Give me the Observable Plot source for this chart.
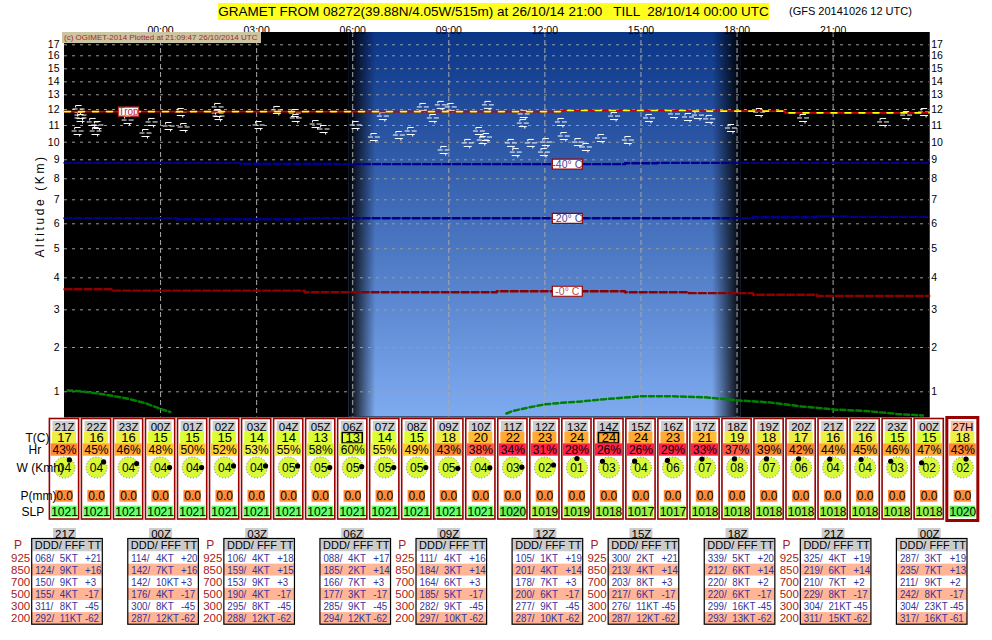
<!DOCTYPE html>
<html>
<head>
<meta charset="utf-8">
<script src="https://cdn.jsdelivr.net/npm/d3@7"></script>
<script src="https://cdn.jsdelivr.net/npm/@observablehq/plot@0.6"></script>
<style>
  html, body { margin: 0; padding: 0; background: #fff; }
  #chart { position: relative; width: 992px; height: 640px; overflow: hidden; font-family: "Liberation Sans", Arial, Helvetica, sans-serif; }
  #chart svg { position: absolute; left: 0; top: 0; }
  .ovl { position: absolute; white-space: pre; }
</style>
</head>
<body>
<div id="chart"></div>
<script>
// ===================== DATA =====================
const titleText = "GRAMET FROM 08272(39.88N/4.05W/515m) at 26/10/14 21:00   TILL  28/10/14 00:00 UTC";
const modelRunText = "(GFS 20141026 12 UTC)";
const creditText = "(c) OGIMET-2014 Plotted at 21:09:47 26/10/2014 UTC";
const yAxisTitle = "Altitude (Km)";

// time axis: hours after 26/10 21:00
const timeTickHours = [3, 6, 9, 12, 15, 18, 21, 24];
const timeTickLabels = ["00:00", "03:00", "06:00", "09:00", "12:00", "15:00", "18:00", "21:00"];
const altTicks = [1, 2, 3, 4, 5, 6, 7, 8, 9, 10, 11, 12, 13, 14, 15, 16, 17];

// non-linear altitude axis (km -> pixel)
const altScaleKm = [0.5, 1, 2, 3, 4, 5, 6, 7, 8, 9, 10, 11, 12, 13, 14, 15, 16, 17, 18.1];
const altScalePx = [416.5, 391.3, 347, 309.3, 277.3, 248.3, 223.3, 199.3, 178.3, 159.3, 141.7, 125, 109, 94.3, 81.3, 68.3, 55.3, 44.3, 32];

// dawn start, full day, dusk start, night
const daylightHours = [8.88, 9.72, 20.24, 21.13];

const profileHours = [0,1,2,3,4,5,6,7,8,9,10,11,12,13,14,15,16,17,18,19,20,21,22,23,24,25,26,27];
const isoMinus40Km = [8.84,8.84,8.84,8.84,8.84,8.84,8.79,8.79,8.79,8.77,8.77,8.77,8.77,8.77,8.77,8.77,8.77,8.77,8.82,8.84,8.84,8.84,8.84,8.84,8.84,8.84,8.84,8.84];
const isoMinus20Km = [6.23,6.23,6.23,6.23,6.19,6.19,6.19,6.19,6.23,6.23,6.23,6.23,6.23,6.23,6.23,6.23,6.23,6.23,6.23,6.23,6.23,6.23,6.27,6.27,6.31,6.29,6.29,6.29];
const iso0Km = [3.64,3.64,3.60,3.60,3.60,3.60,3.60,3.60,3.55,3.55,3.55,3.55,3.55,3.55,3.58,3.58,3.58,3.58,3.55,3.55,3.52,3.52,3.47,3.47,3.43,3.43,3.43,3.43];
const tropopauseKm = [11.87,11.87,11.87,11.87,11.87,11.87,11.87,11.87,11.87,11.87,11.87,11.87,11.87,11.87,11.87,11.87,11.94,11.94,11.94,11.94,11.90,11.90,11.90,11.79,11.79,11.79,11.79,11.79];
const isoLabelHour = 15.7;
const tropLabelHour = 2;

// green boundary line (gap while below ground)
const blHours = [0.1, 0.5, 1, 1.5, 2, 2.5, 3, 3.3, 8, 13.8, 14, 14.5, 15, 15.5, 16, 16.5, 17, 18, 19, 20, 21, 22, 23, 24, 25, 26, 26.8];
const blKm = [1.03, 1.01, 0.97, 0.92, 0.86, 0.78, 0.66, 0.6, NaN, 0.57, 0.62, 0.69, 0.75, 0.78, 0.80, 0.83, 0.86, 0.91, 0.91, 0.89, 0.83, 0.79, 0.71, 0.65, 0.62, 0.56, 0.53];

// cloud symbols
const cloudHour = [0.44,0.5,0.5,0.41,0.88,1.03,0.97,1.97,2.72,2.53,3.63,3.25,3.72,4.78,4.78,4.81,6.06,6.63,7.19,7.22,7.84,8.09,9.09,11.19,11.75,12.06,13.22,9.94,11.5,9.66,10.44,10.81,11.84,12.59,12.94,13.06,13.16,13.94,14.09,14.34,14.31,14.56,15.03,14.97,15.5,15.59,16.03,16.28,16.75,17.16,17.59,18.25,19.03,19.47,19.78,20.13,20.81,21.69,23.06,25.56,26.28,26.84];
const cloudKm = [12.0,11.62,11.44,10.64,11.19,11.0,10.64,11.31,11.19,10.52,11.81,10.94,10.88,12.14,11.75,11.56,11.0,11.94,11.75,11.44,11.06,10.76,11.0,12.14,12.28,12.14,12.28,11.56,11.44,10.28,10.4,10.64,9.53,9.93,10.64,10.1,10.28,9.93,9.41,11.69,11.12,9.93,9.98,9.41,11.19,10.34,9.98,9.7,10.22,11.56,10.1,11.44,11.69,11.5,11.62,11.38,10.82,11.81,11.44,11.19,11.62,11.81];

// hourly surface table
const hourLabels = ["21Z","22Z","23Z","00Z","01Z","02Z","03Z","04Z","05Z","06Z","07Z","08Z","09Z","10Z","11Z","12Z","13Z","14Z","15Z","16Z","17Z","18Z","19Z","20Z","21Z","22Z","23Z","00Z"];
const tempC = [17,16,16,15,15,15,14,14,13,13,14,15,18,20,22,23,24,24,24,23,21,19,18,17,16,16,15,15];
const relHum = [43,45,46,48,50,52,53,55,58,60,55,49,43,38,34,31,28,26,26,29,33,37,39,42,44,45,46,47];
const windKmh = [4,4,4,4,4,4,4,5,5,5,5,5,5,4,3,2,1,3,4,6,7,8,7,6,4,4,3,2];
const windDir = [33,52,64,90,90,80,80,80,90,85,90,90,95,92,88,74,0,314,315,322,340,343,343,344,338,333,314,302];
const precipMm = [0,0,0,0,0,0,0,0,0,0,0,0,0,0,0,0,0,0,0,0,0,0,0,0,0,0,0,0];
const seaLevelP = [1021,1021,1021,1021,1021,1021,1021,1021,1021,1021,1021,1021,1021,1021,1020,1019,1019,1018,1017,1017,1018,1018,1018,1018,1018,1018,1018,1018];
const tExtremeCols = ["06Z", "14Z"];
const summaryCol = {lab: "27H", t: 18, hr: 43, w: 2, dir: 21, p: 0, slp: 1020};
const rowLabelText = ["T(C)", "Hr", "W (Kmh)", "P(mm)", "SLP"];

// upper air table
const uaBlockHours = [0, 3, 6, 9, 12, 15, 18, 21, 24, 27];
const uaBlockLabels = ["21Z","00Z","03Z","06Z","09Z","12Z","15Z","18Z","21Z","00Z"];
const uaHeader = "DDD/ FFF TT";
const uaLevels = [925, 850, 700, 500, 300, 200];
const uaDir = [[68,124,150,155,311,292],[114,142,142,176,300,287],[106,159,153,190,295,288],[88,185,166,177,285,294],[111,184,164,185,282,297],[105,201,178,200,277,287],[300,213,203,217,276,287],[339,212,220,220,299,293],[325,219,210,229,304,311],[287,235,211,242,304,317]];
const uaKt = [[5,9,9,4,8,11],[4,7,10,4,8,12],[4,4,9,4,8,12],[4,2,7,3,9,12],[4,3,6,5,9,10],[1,4,7,6,9,10],[2,4,8,6,11,12],[5,6,8,6,16,13],[4,6,7,8,21,15],[3,7,9,8,23,16]];
const uaTemp = [[21,16,3,-17,-45,-62],[20,16,3,-17,-45,-62],[18,15,3,-17,-45,-62],[17,14,3,-17,-45,-62],[16,14,3,-17,-45,-62],[19,14,3,-17,-45,-62],[21,14,3,-17,-45,-62],[20,14,2,-17,-45,-62],[19,14,2,-17,-45,-62],[19,13,2,-17,-45,-61]];

// ===================== LAYOUT / STYLE =====================
const FONT = '"Liberation Sans", Arial, Helvetica, sans-serif';
const UA_TEXT = "#34349a", UA_P = "#aa1a1a";
const W = 992, H = 640, X0 = 64, X1 = 928.7, TOP = 32, BOTTOM = 416.5;
const pxH = 27 / (X1 - X0);            // hours per pixel
const SUMMARY_H = 28.05;               // position of the 27H column
const rowLabelX = [25, 28, 16, 20, 21];
const rowLabelY = [437.5, 449.5, 467.5, 496, 511.5];
const kmToAxis = d3.scaleLinear().domain(altScaleKm).range(altScalePx);

const tColor = t => t >= 22 ? "#ffaa33" : t >= 20 ? "#ffbd35" : t >= 16 ? "#eeee44" : "#dcff33";
const hrColor = h => h <= 34 ? "#ff2246" : h <= 38 ? "#ff5a44" : h <= 43 ? "#ff8833" : h <= 47 ? "#ffaa33" : h <= 52 ? "#ffcc33" : h <= 56 ? "#eeee44" : "#d4f233";
const slpColor = s => s >= 1021 ? "#66ff66" : s >= 1020 ? "#66ee55" : "#99ee44";

// ===================== MAIN PLOT =====================
const profile = arr => profileHours.map((h, i) => ({h, km: arr[i]}));
const clouds = cloudHour.map((h, i) => ({h, km: cloudKm[i]}));
const bl = blHours.map((h, i) => ({h, km: blKm[i]}));
const li = Math.round(isoLabelHour);
const isoLabels = [
  {h: isoLabelHour, km: isoMinus40Km[li], text: "-40° C", color: "#4646a0"},
  {h: isoLabelHour, km: isoMinus20Km[li], text: "-20° C", color: "#4646a0"},
  {h: isoLabelHour, km: iso0Km[li], text: "-0° C", color: "#c44a4a"}
];
const tropLabel = [{h: tropLabelHour, km: tropopauseKm[tropLabelHour], text: "Trop"}];

// cirrus-like glyph: staggered short white strokes
const cloudSymbol = {draw(c) {
  c.moveTo(-3, -4); c.lineTo(3, -4);
  c.moveTo(-6, -0.5); c.lineTo(-1, -0.5);
  c.moveTo(1, -0.5); c.lineTo(6, -0.5);
  c.moveTo(-4, 3); c.lineTo(4, 3);
  c.moveTo(-3, -4); c.lineTo(-3, -2);
  c.moveTo(2, 3); c.lineTo(2, 5);
}};
const boxSymbol = (w, h) => ({draw(c) { c.rect(-w / 2, -h / 2, w, h); }});

const isoLine = (arr, color) => Plot.line(profile(arr), {x: "h", y: "km", curve: "step", stroke: color, strokeWidth: 2.4, strokeDasharray: "7,3"});

const main = Plot.plot({
  width: W, height: H,
  marginLeft: X0, marginRight: W - X1, marginTop: TOP, marginBottom: H - BOTTOM,
  style: {background: "transparent", fontFamily: FONT, fontSize: "10.5px", color: "#000"},
  x: {domain: [0, 27], range: [X0, X1], axis: null},
  y: {transform: kmToAxis, domain: [BOTTOM, TOP], range: [BOTTOM, TOP], axis: null},
  marks: [
    Plot.frame({fill: "#000", stroke: "#000"}),
    Plot.rect([daylightHours], {x1: d => d[0], x2: d => d[3], fill: "url(#skyGrad)"}),
    Plot.rect([daylightHours], {x1: d => d[0], x2: d => d[1], fill: "url(#dawnGrad)"}),
    Plot.rect([daylightHours], {x1: d => d[2], x2: d => d[3], fill: "url(#duskGrad)"}),
    Plot.ruleY(altTicks, {stroke: "#9a9a9a", strokeDasharray: "3,5"}),
    Plot.ruleX(timeTickHours, {stroke: "#a8a8a8", strokeDasharray: "5,3"}),
    Plot.dot(clouds, {x: "h", y: "km", symbol: cloudSymbol, fill: "none", stroke: "#fff", strokeWidth: 1}),
    isoLine(isoMinus40Km, "#00008b"),
    isoLine(isoMinus20Km, "#00008b"),
    isoLine(iso0Km, "#8b0000"),
    Plot.line(bl, {x: "h", y: "km", stroke: "#008000", strokeWidth: 2.5, strokeDasharray: "5,3"}),
    Plot.line(profile(tropopauseKm), {x: "h", y: "km", curve: "step", stroke: "#cc0000", strokeWidth: 1.6}),
    Plot.line(profile(tropopauseKm), {x: "h", y: "km", curve: "step", stroke: "#ffff00", strokeWidth: 1.6, strokeDasharray: "6,8"}),
    Plot.dot(isoLabels, {x: "h", y: "km", symbol: boxSymbol(30, 10), fill: "#fff", stroke: "#990000", strokeWidth: 1.2}),
    Plot.text(isoLabels, {x: "h", y: "km", text: "text", fill: "color", fontSize: 10.5}),
    Plot.dot(tropLabel, {x: "h", y: "km", symbol: boxSymbol(20, 9), fill: "#fff", stroke: "#cc3333", strokeWidth: 1.2}),
    Plot.text(tropLabel, {x: "h", y: "km", text: "text", fill: "#cc2222", fontSize: 10}),
    Plot.text(altTicks, {y: d => d, text: d => String(d), frameAnchor: "left", textAnchor: "end", dx: -5}),
    Plot.text(altTicks, {y: d => d, text: d => String(d), frameAnchor: "right", textAnchor: "start", dx: 2}),
    Plot.text(timeTickHours.map((h, i) => ({h, label: timeTickLabels[i]})), {x: "h", text: "label", frameAnchor: "top", dy: -6})
  ]
});

const defs = d3.select(main).insert("defs", ":first-child");
const sky = defs.append("linearGradient").attr("id", "skyGrad").attr("x1", 0).attr("y1", 0).attr("x2", 0).attr("y2", 1);
sky.append("stop").attr("offset", "0%").attr("stop-color", "#0b3587");
sky.append("stop").attr("offset", "100%").attr("stop-color", "#7eabf0");
const dawn = defs.append("linearGradient").attr("id", "dawnGrad").attr("x1", 0).attr("y1", 0).attr("x2", 1).attr("y2", 0);
dawn.append("stop").attr("offset", "0%").attr("stop-color", "#000").attr("stop-opacity", 1);
dawn.append("stop").attr("offset", "100%").attr("stop-color", "#000").attr("stop-opacity", 0);
const dusk = defs.append("linearGradient").attr("id", "duskGrad").attr("x1", 0).attr("y1", 0).attr("x2", 1).attr("y2", 0);
dusk.append("stop").attr("offset", "0%").attr("stop-color", "#000").attr("stop-opacity", 0);
dusk.append("stop").attr("offset", "100%").attr("stop-color", "#000").attr("stop-opacity", 1);

// ===================== TABLES =====================
const cols = hourLabels.map((lab, i) => ({h: i, lab, t: tempC[i], hr: relHum[i], w: windKmh[i], dir: windDir[i], p: precipMm[i], slp: seaLevelP[i], boxed: tExtremeCols.includes(lab), summary: false}));
cols.push({h: SUMMARY_H, ...summaryCol, boxed: false, summary: true});
const hourCols = cols.filter(d => !d.summary);
const sumCols = cols.filter(d => d.summary);

const uaBlocks = uaBlockHours.map((h, b) => ({h, b, lab: uaBlockLabels[b]}));
const uaCells = [];
uaBlocks.forEach(blk => uaLevels.forEach((lev, l) => {
  const t = uaTemp[blk.b][l];
  uaCells.push({h: blk.h, b: blk.b, l, lev,
    ddd: String(uaDir[blk.b][l]).padStart(3, "0") + "/",
    fff: uaKt[blk.b][l] + "KT",
    tt: (t > 0 ? "+" : "") + t});
}));
const pBlocks = uaBlocks.filter(d => d.b % 2 === 0);
const pCells = uaCells.filter(d => d.b % 2 === 0);
const UA_ROW0 = 551.5, UA_ROWH = 12.12;
const bx1 = d => d.h - 32.3 * pxH, bx2 = d => d.h + 38.3 * pxH;
const rowMid = d => UA_ROW0 + UA_ROWH * (d.l + 0.5);
const rad = d => d.dir * Math.PI / 180;

const table = Plot.plot({
  width: W, height: H, margin: 0,
  style: {background: "transparent", fontFamily: FONT, fontSize: "12px", color: "#000"},
  x: {domain: [0, 27], range: [X0, X1], axis: null},
  y: {type: "identity", axis: null},
  marks: [
    // hourly columns
    Plot.rect(hourCols, {x1: d => d.h - 14.6 * pxH, x2: d => d.h + 14.6 * pxH, y1: 418.5, y2: 519, fill: "#fff", stroke: "#990000", strokeWidth: 1.6}),
    Plot.rect(sumCols, {x1: d => d.h - 15.5 * pxH, x2: d => d.h + 15.5 * pxH, y1: 417.5, y2: 520.5, fill: "#fff", stroke: "#990000", strokeWidth: 3}),
    Plot.rect(cols, {x1: d => d.h - 11.5 * pxH, x2: d => d.h + 11.5 * pxH, y1: 421, y2: 431.5, fill: d => d.summary ? "#ffb8a0" : "#cccccc"}),
    Plot.text(cols, {x: "h", y: 426.5, text: "lab", fontSize: 11.5}),
    Plot.rect(cols, {x1: d => d.h - 12 * pxH, x2: d => d.h + 12 * pxH, y1: 431.5, y2: 443.3, fill: d => tColor(d.t)}),
    Plot.rect(cols.filter(d => d.boxed), {x1: d => d.h - 10 * pxH, x2: d => d.h + 10 * pxH, y1: 432.5, y2: 443, fill: "none", stroke: "#000", strokeWidth: 1.5}),
    Plot.text(cols, {x: "h", y: 437.6, text: d => String(d.t), fontSize: 13}),
    Plot.rect(cols, {x1: d => d.h - 13.5 * pxH, x2: d => d.h + 13.5 * pxH, y1: 443.3, y2: 455.7, fill: d => hrColor(d.hr)}),
    Plot.text(cols, {x: "h", y: 449.7, text: d => d.hr + "%", fontSize: 12}),
    Plot.dot(cols, {x: "h", y: 467, r: 10.5, fill: "#d8f83a", stroke: "#777", strokeWidth: 1, strokeDasharray: "1,2"}),
    Plot.text(cols, {x: "h", y: 467.8, text: d => String(d.w).padStart(2, "0"), fontSize: 12}),
    Plot.dot(cols, {x: d => d.h + 9 * Math.sin(rad(d)) * pxH, y: d => 467 - 9 * Math.cos(rad(d)), r: 2.6, fill: "#000"}),
    Plot.rect(cols, {x1: d => d.h - 8.7 * pxH, x2: d => d.h + 8.7 * pxH, y1: 490, y2: 501.7, fill: "#ff8c3c"}),
    Plot.text(cols, {x: "h", y: 496, text: d => d.p.toFixed(1), fontSize: 12}),
    Plot.rect(cols, {x1: d => d.h - 12.8 * pxH, x2: d => d.h + 12.8 * pxH, y1: 505.7, y2: 516.8, fill: d => slpColor(d.slp)}),
    Plot.text(cols, {x: "h", y: 511.5, text: d => String(d.slp), fontSize: 12}),
    Plot.text(rowLabelText, {x: (d, i) => (rowLabelX[i] - X0) * pxH, y: (d, i) => rowLabelY[i], text: d => d, textAnchor: "start", fontSize: 12}),
    // upper air blocks
    Plot.rect(uaBlocks, {x1: d => d.h - 11 * pxH, x2: d => d.h + 12 * pxH, y1: 528, y2: 538.5, fill: "#cccccc"}),
    Plot.text(uaBlocks, {x: d => d.h + 0.5 * pxH, y: 533.5, text: "lab", fontSize: 11.5}),
    Plot.rect(uaBlocks, {x1: bx1, x2: bx2, y1: 538.5, y2: UA_ROW0, fill: "#cccccc"}),
    Plot.rect(uaCells, {x1: bx1, x2: bx2, y1: d => UA_ROW0 + UA_ROWH * d.l, y2: d => UA_ROW0 + UA_ROWH * (d.l + 1), fill: d => d.l % 2 ? "#ffb596" : "#ffffff"}),
    Plot.rect(uaBlocks, {x1: bx1, x2: bx2, y1: 538.5, y2: UA_ROW0 + 6 * UA_ROWH, fill: "none", stroke: "#000", strokeWidth: 1.2}),
    Plot.text(uaBlocks, {x: d => d.h + 3.5 * pxH, y: 545, text: () => uaHeader, fontSize: 11}),
    Plot.text(uaCells, {x: d => d.h - 29.3 * pxH, y: rowMid, text: "ddd", textAnchor: "start", fill: UA_TEXT, fontSize: 11}),
    Plot.text(uaCells, {x: d => d.h - 4.7 * pxH, y: rowMid, text: "fff", textAnchor: "start", fill: UA_TEXT, fontSize: 11}),
    Plot.text(uaCells, {x: d => d.h + 20.5 * pxH, y: rowMid, text: "tt", textAnchor: "start", fill: UA_TEXT, fontSize: 11}),
    Plot.text(pBlocks, {x: d => d.h - 46.5 * pxH, y: 545, text: () => "P", fill: UA_P, fontSize: 12}),
    Plot.text(pCells, {x: d => d.h - 34.3 * pxH, y: rowMid, text: d => String(d.lev), textAnchor: "end", fill: UA_P, fontSize: 11.5})
  ]
});

// ===================== ASSEMBLE =====================
const chart = document.getElementById("chart");
chart.append(main, table);

// condense the upper-air figures slightly, like the narrow face of the original
d3.select(table).selectAll(`g[fill="${UA_TEXT}"] text`).each(function() {
  const w = this.getComputedTextLength();
  if (w > 0) { this.setAttribute("textLength", (w * 0.88).toFixed(1)); this.setAttribute("lengthAdjust", "spacingAndGlyphs"); }
});

function overlay(text, css) {
  const d = document.createElement("div");
  d.className = "ovl";
  d.textContent = text;
  Object.assign(d.style, css);
  chart.append(d);
}
overlay(titleText, {left: "218px", top: "3px", width: "551px", height: "17px", lineHeight: "17px", background: "#ffff1e", fontSize: "13.5px", textAlign: "center"});
overlay(modelRunText, {left: "789px", top: "4px", fontSize: "11px", lineHeight: "14px"});
overlay(creditText, {left: "62px", top: "32px", width: "199px", height: "11px", lineHeight: "11px", background: "#cbc5a2", color: "#a02a2a", fontSize: "8px", paddingLeft: "2px", boxSizing: "border-box", overflow: "hidden"});
overlay(yAxisTitle, {left: "40px", top: "206px", fontSize: "12px", letterSpacing: "2.6px", transform: "translate(-50%,-50%) rotate(-90deg)"});
</script>
</body>
</html>
